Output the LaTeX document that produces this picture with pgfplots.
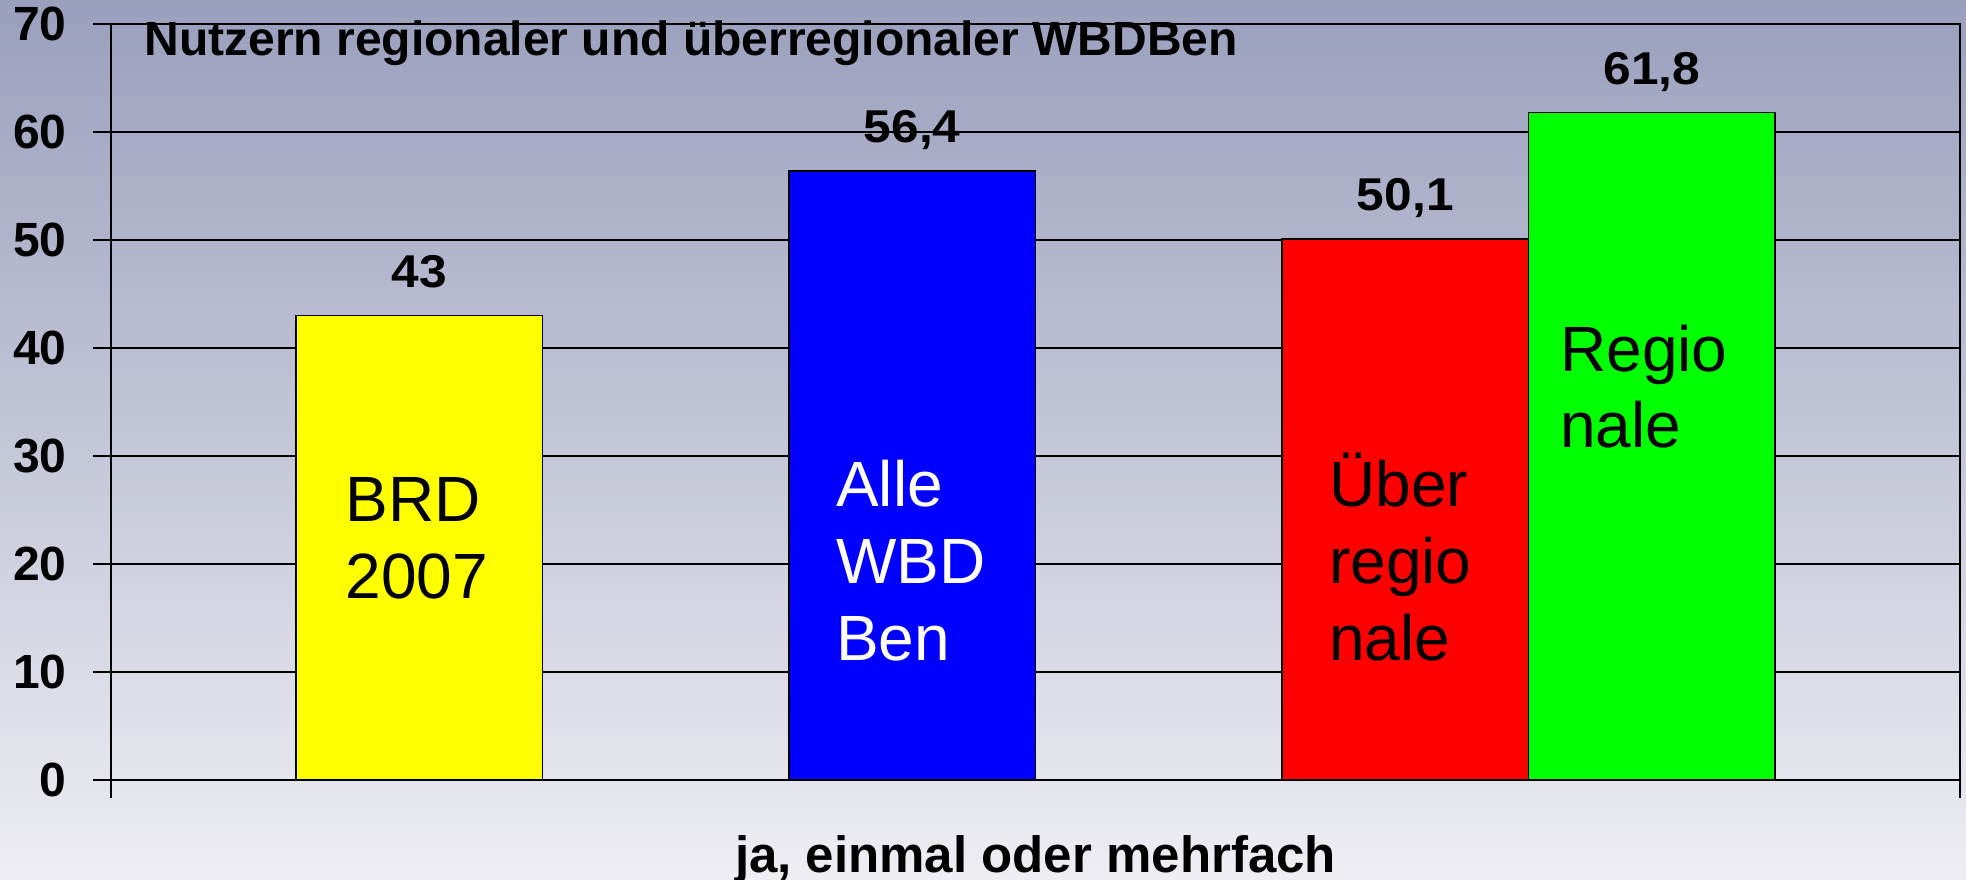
\documentclass[border=0pt]{standalone}
\usepackage{pgfplots}
\pgfplotsset{compat=1.18}
\usepackage{fontspec}
\setmainfont{Liberation Sans}
\definecolor{bgtop}{RGB}{154,159,189}
\definecolor{bgbot}{RGB}{238,238,243}
\definecolor{cyel}{RGB}{255,255,0}
\definecolor{cblu}{RGB}{0,0,255}
\definecolor{cred}{RGB}{255,0,0}
\definecolor{cgrn}{RGB}{0,255,0}
\begin{document}
\begin{tikzpicture}
\useasboundingbox (0,0) rectangle (983pt,439.5pt);
\shade[top color=bgtop, bottom color=bgbot] (0,0) rectangle (983pt,439.5pt);
\begin{axis}[
  at={(55.5pt,49.5pt)}, anchor=south west,
  width=924.5pt, height=378pt, scale only axis,
  xmin=0, xmax=7.5, ymin=0, ymax=70,
  ytick={0,10,...,70},
  xtick={0,7.5}, xticklabels={},
  tick pos=left, tick align=outside,
  major tick length=9pt,
  tick style={black, line width=0.8pt},
  axis line style={black, line width=0.8pt},
  ymajorgrids, grid style={black, line width=0.8pt},
  /pgf/number format/assume math mode=true,
  yticklabel style={font=\bfseries\fontsize{24}{24}\selectfont, inner sep=0pt, xshift=-13pt},
  xlabel={ja, einmal oder mehrfach},
  xlabel style={at={(rel axis cs:0.5,0)}, anchor=base, yshift=-46pt, font=\bfseries\fontsize{25.5}{25.5}\selectfont},
  bar width=1,
  nodes near coords={\scalebox{1.08}[1]{\pgfmathprintnumber[use comma,fixed,precision=1]{\pgfplotspointmeta}}},
  every node near coord/.append style={anchor=base, yshift=14pt, inner sep=0pt, font=\bfseries\fontsize{23}{23}\selectfont, black},
  clip=false,
]
\addplot[ybar, fill=cyel, draw=black, line width=0.7pt] coordinates {(1.25,43)};
\addplot[ybar, fill=cblu, draw=black, line width=0.7pt] coordinates {(3.25,56.4)};
\addplot[ybar, fill=cred, draw=black, line width=0.7pt] coordinates {(5.25,50.1)};
\addplot[ybar, fill=cgrn, draw=black, line width=0.7pt] coordinates {(6.25,61.8)};

\node[anchor=base west, inner sep=0pt, font=\bfseries\fontsize{24}{24}\selectfont] at ([xshift=16.5pt,yshift=-15.5pt]rel axis cs:0,1) {Nutzern regionaler und überregionaler WBDBen};

\begin{scope}[every node/.style={anchor=base west, inner sep=0pt, font=\fontsize{32}{32}\selectfont}]
\node at (axis cs:0.95,23.89) {BRD};
\node at (axis cs:0.95,16.85) {2007};
\node[text=white] at (axis cs:2.94,25.28) {Alle};
\node[text=white] at (axis cs:2.94,18.15) {WBD};
\node[text=white] at (axis cs:2.94,11.11) {Ben};
\node at (axis cs:4.94,25.28) {Über};
\node at (axis cs:4.94,18.15) {regio};
\node at (axis cs:4.94,11.11) {nale};
\node at (axis cs:5.877,37.78) {Regio};
\node at (axis cs:5.877,30.83) {nale};
\end{scope}
\end{axis}
\end{tikzpicture}
\end{document}
